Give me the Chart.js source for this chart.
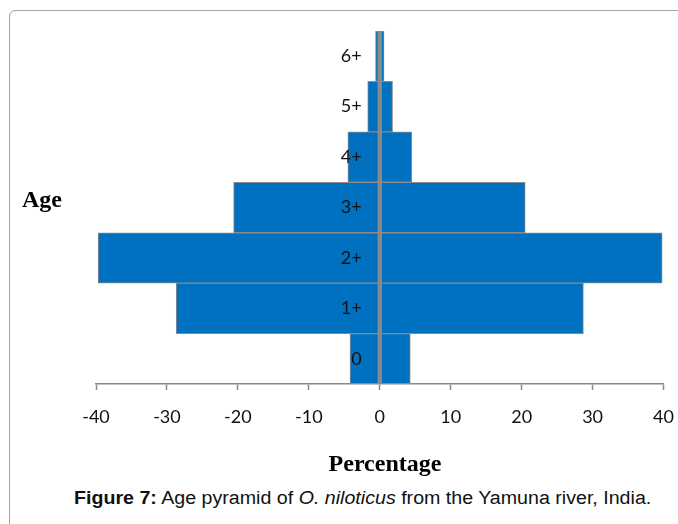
<!DOCTYPE html>
<html>
<head>
<meta charset="utf-8">
<script src="https://cdn.jsdelivr.net/npm/chart.js@4/dist/chart.umd.min.js"></script>
<style>
  html, body { margin:0; padding:0; background:#fff; width:678px; height:524px; overflow:hidden; }
  #frame { position:absolute; left:9px; top:10px; width:720px; height:600px; border:1px solid #a4a4a4; border-radius:6px; box-sizing:border-box; }
  #c { position:absolute; left:0; top:0; }
  #age { position:absolute; left:22px; top:187px; font-family:"Liberation Serif", serif; font-weight:bold; font-size:24px; line-height:24px; color:#000; }
  #xtitle { position:absolute; left:285px; top:449px; width:200px; text-align:center; font-family:"Liberation Serif", serif; font-weight:bold; font-size:24px; line-height:28px; color:#000; }
  #caption { position:absolute; left:74px; top:487px; white-space:nowrap; font-family:"Liberation Sans", Arial, sans-serif; font-size:18px; line-height:22px; color:#111; transform:scaleX(1.09); transform-origin:0 0; }
</style>
</head>
<body>
<div id="frame"></div>
<canvas id="c" width="690" height="480"></canvas>
<div id="age">Age</div>
<div id="xtitle">Percentage</div>
<div id="caption"><b>Figure 7:</b> Age pyramid of <i>O. niloticus</i> from the Yamuna river, India.</div>
<script>
const ageClasses = ['0', '1+', '2+', '3+', '4+', '5+', '6+'];
const leftValues = [-4.2, -28.7, -39.7, -20.6, -4.5, -1.7, -0.6];
const rightValues = [4.3, 28.7, 39.8, 20.5, 4.5, 1.8, 0.6];
const xTicks = [-40, -30, -20, -10, 0, 10, 20, 30, 40];

const barColor = '#0070C0';
const edgeColor = '#8a8a8a';
const tickFont = { family: 'Lato', size: 18 };

new Chart(document.getElementById('c'), {
  type: 'bar',
  data: {
    labels: ageClasses,
    datasets: [
      { label: 'left', data: leftValues, backgroundColor: barColor, borderColor: edgeColor, borderWidth: 1, borderSkipped: false, barPercentage: 1, categoryPercentage: 1 },
      { label: 'right', data: rightValues, backgroundColor: barColor, borderColor: edgeColor, borderWidth: 1, borderSkipped: false, barPercentage: 1, categoryPercentage: 1 }
    ]
  },
  options: {
    indexAxis: 'y',
    responsive: false,
    animation: false,
    devicePixelRatio: 1,
    layout: { autoPadding: false, padding: { left: 96, right: 5, top: 31, bottom: 36 } },
    plugins: { legend: { display: false }, tooltip: { enabled: false } },
    scales: {
      x: {
        type: 'linear', min: -40, max: 40, stacked: true,
        afterBuildTicks: s => { s.ticks = xTicks.map(v => ({ value: v })); },
        afterFit: s => { s.height = 60; },
        ticks: { padding: 16, color: '#111', font: tickFont },
        grid: {
          z: 1,
          drawOnChartArea: true, drawTicks: true, tickLength: 6,
          color: c => (c.tick && c.tick.value === 0) ? edgeColor : 'rgba(0,0,0,0)',
          lineWidth: c => (c.tick && c.tick.value === 0) ? 3 : 1,
          tickColor: edgeColor, tickWidth: 1.5
        },
        border: { z: 1, color: edgeColor, width: 1.5 }
      },
      y: {
        type: 'category', reverse: true, stacked: true,
        position: { x: -2.55 },
        grid: { display: false, drawTicks: false },
        border: { display: false },
        ticks: { z: 1, color: '#111', font: tickFont }
      }
    }
  }
});
</script>
</body>
</html>
